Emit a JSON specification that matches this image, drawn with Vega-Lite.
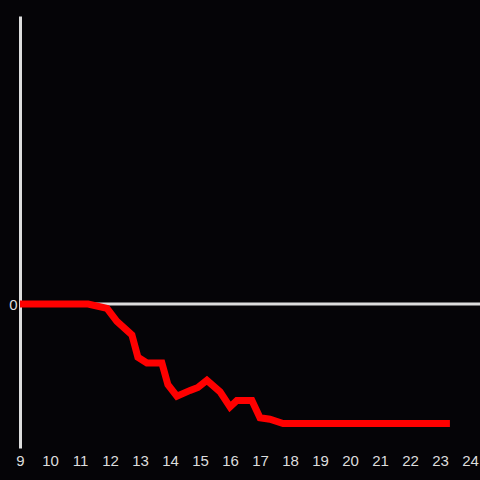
{
  "$schema": "https://vega.github.io/schema/vega-lite/v6.json",
  "width": 460,
  "height": 432,
  "autosize": {"type": "none"},
  "padding": {"left": 20, "top": 16, "right": 0, "bottom": 32},
  "background": "#050407",
  "config": {"view": {"stroke": null}, "font": "Liberation Sans"},
  "datasets": {
    "series": [
      {"hour": 9.0, "value": 0},
      {"hour": 11.27, "value": 0},
      {"hour": 11.9, "value": -0.03},
      {"hour": 12.23, "value": -0.12},
      {"hour": 12.73, "value": -0.215},
      {"hour": 12.93, "value": -0.37},
      {"hour": 13.23, "value": -0.41},
      {"hour": 13.73, "value": -0.41},
      {"hour": 13.93, "value": -0.56},
      {"hour": 14.23, "value": -0.64},
      {"hour": 14.67, "value": -0.6},
      {"hour": 14.93, "value": -0.58},
      {"hour": 15.23, "value": -0.53},
      {"hour": 15.67, "value": -0.61},
      {"hour": 16.0, "value": -0.715},
      {"hour": 16.23, "value": -0.67},
      {"hour": 16.73, "value": -0.67},
      {"hour": 17.0, "value": -0.79},
      {"hour": 17.33, "value": -0.8},
      {"hour": 17.77, "value": -0.83},
      {"hour": 23.33, "value": -0.83}
    ],
    "zero": [{"value": 0}]
  },
  "layer": [
    {
      "data": {"name": "zero"},
      "mark": {"type": "rule", "color": "#dddddd", "strokeWidth": 3},
      "encoding": {
        "y": {"field": "value", "type": "quantitative", "scale": {"domain": [-1, 2]},
          "axis": {"values": [0], "format": "d", "grid": false, "ticks": false, "domain": true, "domainColor": "#dddddd", "domainWidth": 3, "labelColor": "#dddddd", "labelFontSize": 15, "labelPadding": 3, "title": null}}
      }
    },
    {
      "data": {"name": "series"},
      "mark": {"type": "line", "color": "#ff0000", "strokeWidth": 7, "strokeJoin": "miter"},
      "encoding": {
        "x": {"field": "hour", "type": "quantitative", "scale": {"domain": [9, 24.333], "nice": false},
          "axis": {"values": [9,10,11,12,13,14,15,16,17,18,19,20,21,22,23,24], "format": "d", "grid": false, "ticks": false, "domain": false, "labelColor": "#dddddd", "labelFontSize": 15, "labelPadding": 5, "title": null, "labelFlush": false}},
        "y": {"field": "value", "type": "quantitative", "scale": {"domain": [-1, 2]}}
      }
    }
  ]
}
